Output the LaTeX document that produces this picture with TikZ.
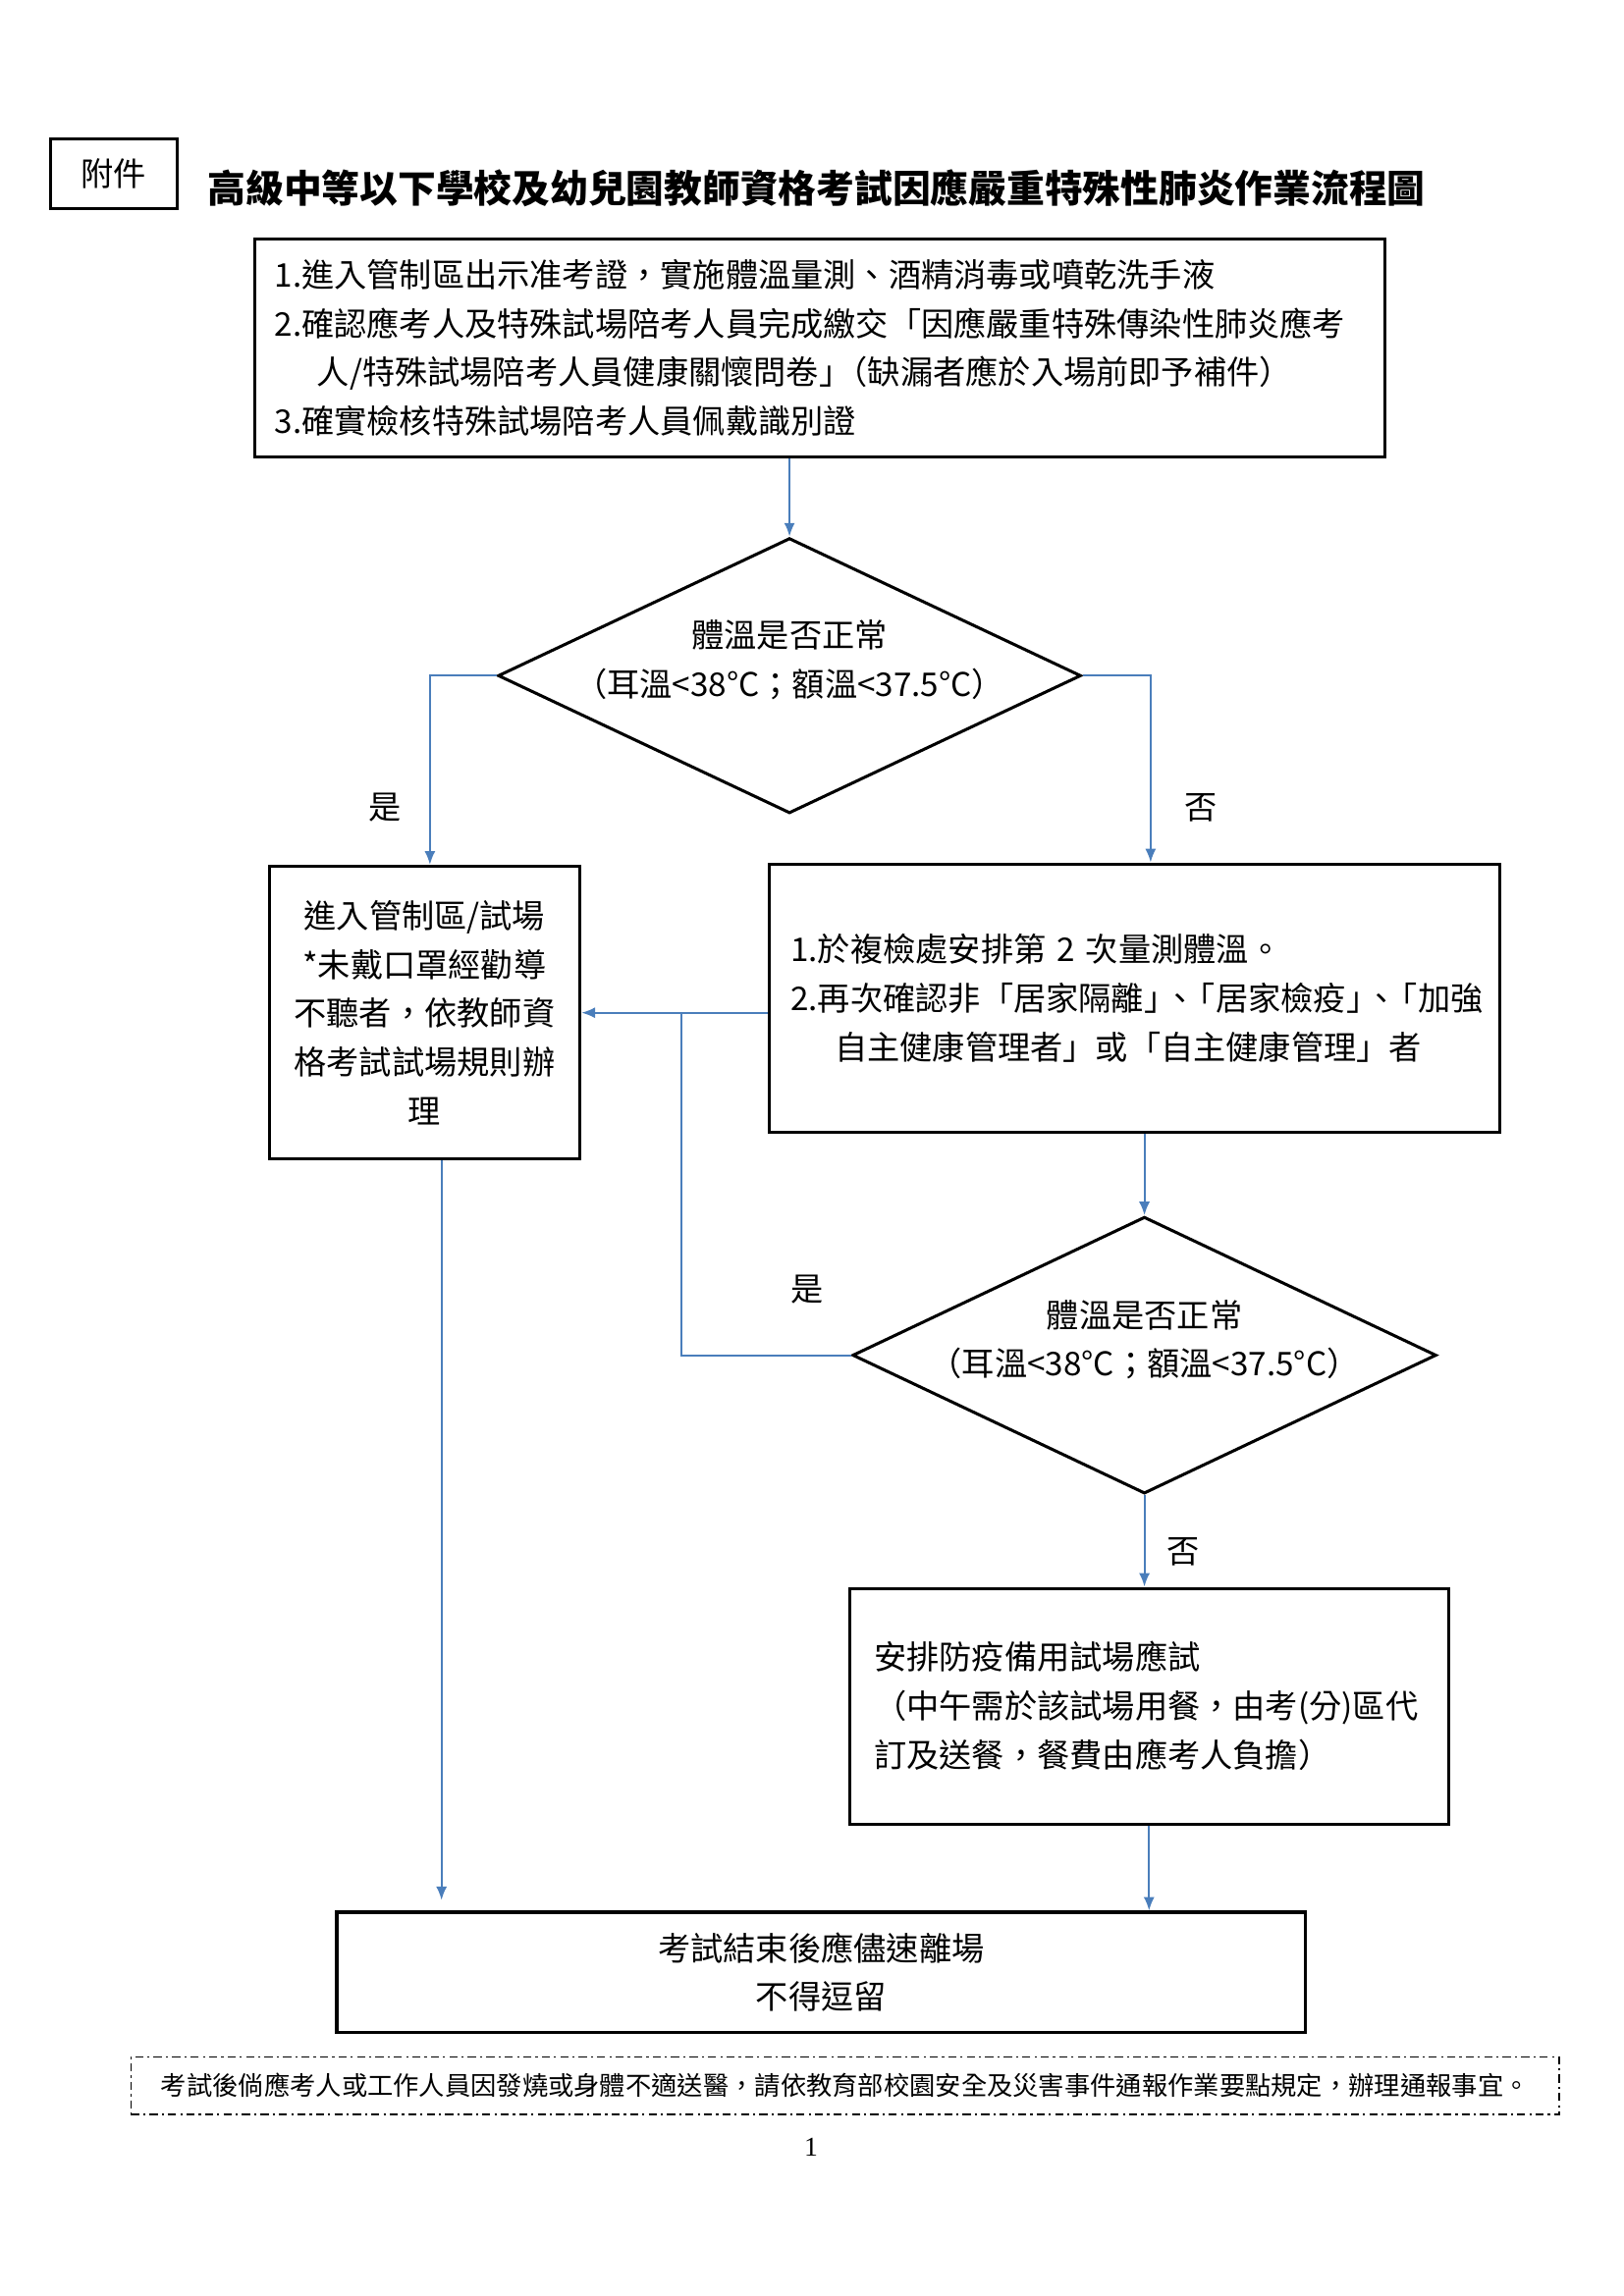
\documentclass[tikz,border=0pt]{standalone}
\usepackage{fontspec}
\setmainfont{Noto Sans CJK TC}
\newfontfamily\numfont{Liberation Serif}
\usetikzlibrary{arrows.meta,shapes.geometric,positioning}
\definecolor{flowblue}{HTML}{4A7EBB}
\newcommand{\tightsep}{」\kern-0.4em、\kern-0.4em「}

\begin{document}
\begin{tikzpicture}[->,
		>={Latex[length=5pt,width=4pt]},
		boxnode/.style={rectangle,draw,line width=1.1pt,inner sep=0pt,font=\fontsize{12}{18}\selectfont},
		decisionnode/.style={diamond,draw,line width=1.1pt,inner sep=0pt},
		plainnode/.style={inner sep=0pt,font=\fontsize{12}{18}\selectfont},
		notenode/.style={rectangle,draw,line width=0.5pt,dash pattern=on 3pt off 1.5pt on 0.8pt off 1.5pt,font=\fontsize{9.5}{11}\selectfont},
		flow/.style={draw=flowblue,line width=0.75pt}]
		\useasboundingbox (0,0) rectangle (21,-29.7);
		
		\node[boxnode,minimum width=1.64cm,minimum height=0.9cm] (annex) at (1.47,-2.25) {附件};
		\node[plainnode,font=\fontsize{14}{16}\selectfont\bfseries] (title) at (10.56,-2.43) {高級中等以下學校及幼兒園教師資格考試因應嚴重特殊性肺炎作業流程圖};
		
		\node[boxnode,text width=14.1cm,inner sep=0.26cm,minimum height=2.81cm,align=left] (check) at (10.60,-4.50) {1.進入管制區出示准考證，實施體溫量測、酒精消毒或噴乾洗手液\\2.確認應考人及特殊試場陪考人員完成繳交「因應嚴重特殊傳染性肺炎應考\\\hspace*{0.55cm}人/特殊試場陪考人員健康關懷問卷」\kern-0.5em（缺漏者應於入場前即予補件）\\3.確實檢核特殊試場陪考人員佩戴識別證};
		
		\node[decisionnode,minimum width=7.54cm,minimum height=3.56cm] (temp1) at (10.21,-8.74) {};
		\node[plainnode,align=center] (temp1txt) at ([yshift=0.2cm]temp1.center) {體溫是否正常\\（耳溫<38°C；額溫<37.5°C）};
		
		\node[boxnode,minimum width=4.02cm,minimum height=3.79cm,align=center] (enter) at (5.49,-13.10) {進入管制區/試場\\*未戴口罩經勸導\\不聽者，依教師資\\格考試試場規則辦\\理};
		\node[boxnode,text width=8.89cm,inner sep=0.28cm,minimum height=3.47cm,align=left] (recheck) at (14.67,-12.91) {1.於複檢處安排第 2 次量測體溫。\\2.再次確認非「居家隔離\tightsep 居家檢疫\tightsep 加強\\\hspace*{0.57cm}自主健康管理者」或「自主健康管理」者};
		
		\node[decisionnode,minimum width=7.55cm,minimum height=3.58cm] (temp2) at (14.80,-17.53) {};
		\node[plainnode,align=center] (temp2txt) at ([yshift=0.2cm]temp2.center) {體溫是否正常\\（耳溫<38°C；額溫<37.5°C）};
		
		\node[boxnode,text width=7.11cm,inner sep=0.32cm,minimum height=3.05cm,align=left] (backup) at (14.86,-22.07) {安排防疫備用試場應試\\（中午需於該試場用餐，由考(分)區代\\訂及送餐，餐費由應考人負擔）};
		\node[boxnode,minimum width=12.53cm,minimum height=1.55cm,align=center] (leave) at (10.62,-25.51) {考試結束後應儘速離場\\不得逗留};
		
		\node[notenode,minimum width=18.47cm,minimum height=0.74cm] (note) at (10.93,-26.98) {考試後倘應考人或工作人員因發燒或身體不適送醫，請依教育部校園安全及災害事件通報作業要點規定，辦理通報事宜。};
		\node[plainnode,font=\numfont\fontsize{10}{12}\selectfont] (pagenum) at (10.49,-27.77) {1};
		
		\node[plainnode] (yes1) at (4.98,-10.45) {是};
		\node[plainnode] (no1) at (15.53,-10.45) {否};
		\node[plainnode] (yes2) at (10.44,-16.68) {是};
		\node[plainnode] (no2) at (15.30,-20.07) {否};
		
		\coordinate (merge) at (8.81,-13.10);
		\coordinate (exit) at (5.71,-24.58);
		
		\draw[flow] (temp1.north |- check.south) -- (temp1.north);
		\draw[flow] (temp1.west) -| ([xshift=0.07cm]enter.north);
		\draw[flow] (temp1.east) -| ([xshift=0.21cm]recheck.north);
		\draw[flow] (recheck.west |- enter.east) -- (enter.east);
		\draw[flow,-] (temp2.west) -| (merge);
		\draw[flow] (temp2.north |- recheck.south) -- (temp2.north);
		\draw[flow] (temp2.south) -- (temp2.south |- backup.north);
		\draw[flow] (backup.south) -- (backup.south |- leave.north);
		\draw[flow] (enter.south -| exit) -- (exit);
	\end{tikzpicture}
\end{document}
